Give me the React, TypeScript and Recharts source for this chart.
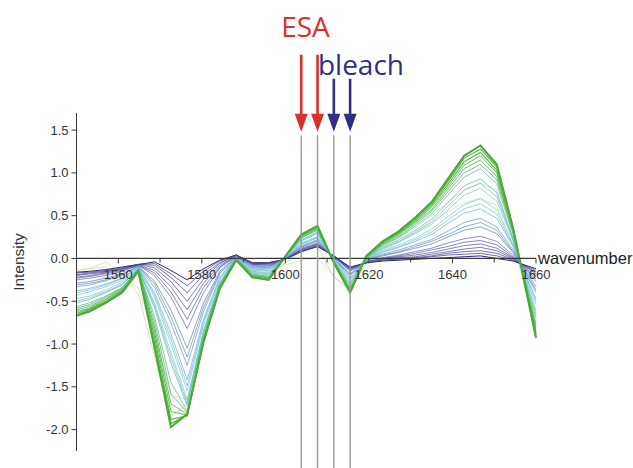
import { LineChart, Line, XAxis, YAxis, ReferenceLine, ReferenceDot } from "recharts";

// wavenumber grid (cm-1) shared by every trace
const WAVENUMBER = [
  1550, 1553.1, 1557, 1560.9, 1564.8, 1568.7, 1572.6, 1576.5, 1580.4, 1584.3,
  1588.2, 1592.1, 1596, 1599.9, 1603.8, 1607.7, 1611.6, 1615.5, 1619.4, 1623.3,
  1627.2, 1631.1, 1635, 1638.9, 1642.8, 1646.7, 1650.6, 1654.5, 1660,
];

// early, noisy traces (pale)
const EARLY_A = [-0.14, -0.12, -0.04, -0.18, -0.42, -1.15, -1.85, -1.7, -0.9, -0.3, -0.04, -0.15, -0.17, -0.06, 0.09, 0.14, -0.22, -0.36, -0.05, 0.14, 0.24, 0.36, 0.5, 0.66, 0.8, 0.88, 0.8, 0.22, -0.87];
const EARLY_B = [-0.13, -0.12, -0.1, -0.2, -0.35, -0.9, -1.6, -1.65, -0.85, -0.28, -0.03, -0.12, -0.14, -0.08, -0.02, 0.0, -0.2, -0.38, -0.06, 0.1, 0.2, 0.3, 0.42, 0.55, 0.65, 0.7, 0.62, 0.15, -0.7];

// difference spectra, smallest (indigo) to largest (green)
const D01 = [-0.16, -0.15, -0.13, -0.1, -0.07, -0.04, -0.14, -0.25, -0.12, -0.02, 0.04, -0.05, -0.05, -0.01, 0.08, 0.14, 0.03, -0.1, -0.05, -0.03, -0.02, -0.01, 0.0, 0.01, 0.02, 0.03, 0.0, -0.03, -0.12];
const D01B = [-0.17, -0.16, -0.14, -0.11, -0.07, -0.06, -0.18, -0.32, -0.15, -0.03, 0.04, -0.05, -0.05, -0.01, 0.08, 0.14, 0.03, -0.11, -0.05, -0.02, -0.01, 0.0, 0.02, 0.04, 0.05, 0.06, 0.03, -0.02, -0.14];
const D02 = [-0.19, -0.17, -0.15, -0.12, -0.07, -0.08, -0.22, -0.4, -0.19, -0.05, 0.04, -0.06, -0.06, -0.01, 0.09, 0.15, 0.03, -0.12, -0.05, -0.02, 0.0, 0.01, 0.03, 0.06, 0.08, 0.09, 0.06, -0.01, -0.16];
const D02B = [-0.2, -0.18, -0.16, -0.12, -0.07, -0.11, -0.27, -0.5, -0.24, -0.06, 0.04, -0.06, -0.06, -0.01, 0.1, 0.16, 0.02, -0.12, -0.05, -0.01, 0.01, 0.02, 0.05, 0.08, 0.11, 0.13, 0.09, 0.0, -0.18];
const D03 = [-0.22, -0.2, -0.17, -0.13, -0.08, -0.14, -0.33, -0.6, -0.29, -0.08, 0.03, -0.07, -0.07, -0.01, 0.1, 0.17, 0.02, -0.13, -0.04, 0.0, 0.02, 0.04, 0.07, 0.11, 0.15, 0.17, 0.12, 0.01, -0.21];
const D03B = [-0.23, -0.21, -0.18, -0.14, -0.08, -0.17, -0.39, -0.71, -0.34, -0.1, 0.03, -0.07, -0.08, -0.01, 0.11, 0.17, 0.02, -0.14, -0.04, 0.0, 0.03, 0.06, 0.1, 0.14, 0.19, 0.21, 0.16, 0.02, -0.24];
const D04 = [-0.25, -0.23, -0.2, -0.15, -0.08, -0.2, -0.45, -0.82, -0.4, -0.11, 0.03, -0.08, -0.09, 0.0, 0.12, 0.18, 0.02, -0.15, -0.04, 0.01, 0.04, 0.08, 0.12, 0.18, 0.23, 0.26, 0.2, 0.04, -0.27];
const D05 = [-0.29, -0.27, -0.23, -0.18, -0.09, -0.27, -0.6, -1.05, -0.52, -0.15, 0.03, -0.09, -0.1, 0.0, 0.13, 0.2, 0.01, -0.18, -0.03, 0.03, 0.07, 0.12, 0.17, 0.25, 0.33, 0.37, 0.29, 0.07, -0.33];
const D05B = [-0.31, -0.29, -0.25, -0.19, -0.09, -0.3, -0.68, -1.15, -0.57, -0.17, 0.02, -0.1, -0.11, 0.0, 0.14, 0.21, 0.0, -0.19, -0.02, 0.04, 0.08, 0.14, 0.2, 0.28, 0.37, 0.42, 0.33, 0.08, -0.37];
const D06 = [-0.33, -0.31, -0.26, -0.2, -0.09, -0.34, -0.75, -1.25, -0.62, -0.18, 0.02, -0.11, -0.12, 0.0, 0.15, 0.22, 0.0, -0.2, -0.02, 0.05, 0.1, 0.16, 0.22, 0.32, 0.42, 0.47, 0.37, 0.1, -0.4];
const D07 = [-0.38, -0.35, -0.3, -0.23, -0.1, -0.4, -0.88, -1.42, -0.71, -0.22, 0.02, -0.12, -0.14, 0.0, 0.17, 0.24, 0.0, -0.23, -0.02, 0.07, 0.13, 0.2, 0.28, 0.41, 0.53, 0.58, 0.47, 0.14, -0.47];
const D07B = [-0.4, -0.37, -0.31, -0.24, -0.1, -0.43, -0.94, -1.49, -0.74, -0.23, 0.01, -0.13, -0.14, 0.0, 0.17, 0.25, 0.0, -0.24, -0.01, 0.08, 0.14, 0.22, 0.31, 0.45, 0.58, 0.64, 0.52, 0.15, -0.5];
const D08 = [-0.43, -0.39, -0.33, -0.26, -0.11, -0.46, -1.0, -1.55, -0.78, -0.25, 0.01, -0.14, -0.15, 0.01, 0.18, 0.26, -0.01, -0.26, -0.01, 0.09, 0.16, 0.24, 0.34, 0.49, 0.63, 0.7, 0.57, 0.17, -0.54];
const D09 = [-0.47, -0.44, -0.37, -0.28, -0.11, -0.52, -1.1, -1.65, -0.84, -0.28, 0.01, -0.15, -0.17, 0.01, 0.2, 0.29, -0.02, -0.28, 0.0, 0.11, 0.19, 0.29, 0.4, 0.57, 0.74, 0.82, 0.67, 0.21, -0.61];
const D09B = [-0.5, -0.46, -0.39, -0.3, -0.12, -0.55, -1.16, -1.69, -0.86, -0.29, 0.0, -0.16, -0.18, 0.01, 0.21, 0.3, -0.02, -0.3, 0.0, 0.12, 0.2, 0.31, 0.43, 0.61, 0.8, 0.88, 0.72, 0.22, -0.65];
const D10 = [-0.52, -0.48, -0.4, -0.31, -0.12, -0.58, -1.22, -1.72, -0.88, -0.3, 0.0, -0.17, -0.19, 0.01, 0.22, 0.31, -0.03, -0.31, 0.01, 0.13, 0.22, 0.33, 0.46, 0.65, 0.85, 0.93, 0.77, 0.24, -0.69];
const D11 = [-0.56, -0.52, -0.44, -0.34, -0.13, -0.68, -1.45, -1.78, -0.92, -0.32, 0.0, -0.18, -0.21, 0.01, 0.24, 0.33, -0.03, -0.34, 0.01, 0.15, 0.25, 0.38, 0.52, 0.74, 0.95, 1.05, 0.87, 0.28, -0.76];
const D11B = [-0.58, -0.54, -0.45, -0.35, -0.13, -0.74, -1.58, -1.8, -0.93, -0.32, 0.0, -0.19, -0.21, 0.01, 0.24, 0.34, -0.03, -0.35, 0.01, 0.16, 0.26, 0.4, 0.55, 0.78, 1.0, 1.1, 0.92, 0.3, -0.79];
const D12 = [-0.6, -0.56, -0.47, -0.36, -0.13, -0.8, -1.7, -1.82, -0.95, -0.33, -0.01, -0.2, -0.22, 0.02, 0.25, 0.35, -0.04, -0.36, 0.02, 0.17, 0.28, 0.42, 0.57, 0.81, 1.05, 1.15, 0.96, 0.31, -0.82];
const D12B = [-0.62, -0.58, -0.48, -0.37, -0.13, -0.86, -1.79, -1.83, -0.96, -0.33, -0.01, -0.2, -0.23, 0.02, 0.26, 0.36, -0.04, -0.37, 0.02, 0.18, 0.29, 0.43, 0.6, 0.84, 1.09, 1.2, 1.0, 0.32, -0.85];
const D13 = [-0.64, -0.59, -0.5, -0.38, -0.14, -0.92, -1.88, -1.84, -0.97, -0.34, -0.01, -0.21, -0.24, 0.02, 0.27, 0.37, -0.05, -0.38, 0.03, 0.19, 0.3, 0.45, 0.62, 0.87, 1.13, 1.24, 1.03, 0.34, -0.88];
const D13B = [-0.66, -0.6, -0.51, -0.39, -0.15, -0.99, -1.93, -1.83, -0.98, -0.35, -0.02, -0.22, -0.25, 0.02, 0.28, 0.38, -0.05, -0.39, 0.03, 0.2, 0.31, 0.47, 0.64, 0.9, 1.17, 1.28, 1.07, 0.35, -0.9];
const D14 = [-0.67, -0.62, -0.52, -0.4, -0.15, -1.05, -1.97, -1.82, -0.98, -0.35, -0.02, -0.22, -0.25, 0.02, 0.28, 0.38, -0.05, -0.4, 0.03, 0.2, 0.32, 0.48, 0.66, 0.93, 1.2, 1.32, 1.1, 0.36, -0.93];

const X_MAJOR = [1560, 1580, 1600, 1620, 1640, 1660];
const X_MINOR = [1570, 1590, 1610, 1630, 1650];
const Y_TICKS = [-2.25, -2, -1.75, -1.5, -1.25, -1, -0.75, -0.5, -0.25, 0, 0.25, 0.5, 0.75, 1, 1.25, 1.5];
const ESA_LINES = [1603.8, 1607.7];
const BLEACH_LINES = [1611.6, 1615.5];

const TRACES = [
  { key: "ea", values: EARLY_A, color: "#c6dea0", width: 0.8 },
  { key: "eb", values: EARLY_B, color: "#d3e4ac", width: 0.8 },
  { key: "d01", values: D01, color: "#2c2a7a", width: 1 },
  { key: "d01b", values: D01B, color: "#333284", width: 0.7 },
  { key: "d02", values: D02, color: "#3b3b8e", width: 0.7 },
  { key: "d02b", values: D02B, color: "#444598", width: 0.7 },
  { key: "d03", values: D03, color: "#4d4fa0", width: 0.7 },
  { key: "d03b", values: D03B, color: "#5458a6", width: 0.7 },
  { key: "d04", values: D04, color: "#5a64ac", width: 0.7 },
  { key: "d05", values: D05, color: "#5c7cb6", width: 0.7 },
  { key: "d05b", values: D05B, color: "#5d88bc", width: 0.7 },
  { key: "d06", values: D06, color: "#5e96c2", width: 0.7 },
  { key: "d07", values: D07, color: "#66b0cc", width: 0.7 },
  { key: "d07b", values: D07B, color: "#6cbcd2", width: 0.7 },
  { key: "d08", values: D08, color: "#74c8d8", width: 0.7 },
  { key: "d09", values: D09, color: "#6cc6cc", width: 0.7 },
  { key: "d09b", values: D09B, color: "#62c0bc", width: 0.7 },
  { key: "d10", values: D10, color: "#58baa8", width: 0.7 },
  { key: "d11", values: D11, color: "#50b488", width: 0.7 },
  { key: "d11b", values: D11B, color: "#52b474", width: 0.8 },
  { key: "d12", values: D12, color: "#58b660", width: 0.9 },
  { key: "d12b", values: D12B, color: "#5eb952", width: 1 },
  { key: "d13", values: D13, color: "#62bc48", width: 1.2 },
  { key: "d13b", values: D13B, color: "#56b240", width: 1.2 },
  { key: "d14", values: D14, color: "#4aa838", width: 2 },
];

const data = WAVENUMBER.map((x, i) => {
  const row: Record<string, number> = { x };
  TRACES.forEach((t) => {
    row[t.key] = t.values[i];
  });
  return row;
});

const sans = "'Liberation Sans', Arial, sans-serif";
const axisColor = "#3a3a3a";

const YTick = (props: any) => {
  const { x, y, payload } = props;
  const v = payload.value as number;
  const major = Math.abs(v * 2 - Math.round(v * 2)) < 1e-6;
  return (
    <g>
      <line x1={x - (major ? 5 : 3)} y1={y} x2={x} y2={y} stroke={axisColor} />
      {major && (
        <text x={x - 8} y={y} dy={4.5} textAnchor="end" fontSize={13} fontFamily={sans} fill="#333">
          {v.toFixed(1)}
        </text>
      )}
    </g>
  );
};

const arrow = (color: string) => (props: any) => {
  const { x1, y1, y2 } = props;
  const top = Math.min(y1, y2);
  const tip = Math.max(y1, y2);
  const head = 18;
  return (
    <g>
      <line x1={x1} y1={top} x2={x1} y2={tip - head + 1} stroke={color} strokeWidth={2.6} />
      <polygon points={`${x1 - 6.5},${tip - head} ${x1 + 6.5},${tip - head} ${x1},${tip}`} fill={color} />
    </g>
  );
};

const label = (text: string, color: string) => (props: any) => (
  <text x={props.cx} y={props.cy} fontSize={28} fontFamily="'Open Sans', sans-serif" fill={color}>
    {text}
  </text>
);

export default function App() {
  return (
    <div style={{ position: "absolute", left: 0, top: 0, background: "#fff" }}>
      <LineChart width={633} height={468} data={data} margin={{ top: 113, right: 97, bottom: 17, left: 0 }}>
        <XAxis type="number" dataKey="x" domain={[1550, 1660]} hide />
        <YAxis
          type="number"
          domain={[-2.25, 1.7]}
          ticks={Y_TICKS}
          width={76.5}
          stroke={axisColor}
          tickLine={false}
          tickSize={0}
          tickMargin={0}
          tick={<YTick />}
          label={() => {
            const cx = 19;
            const cy = 262;
            return (
              <text x={cx} y={cy} transform={`rotate(-90, ${cx}, ${cy})`} textAnchor="middle" dy={5} fontSize={15.5} fontFamily={sans} fill="#333">
                Intensity
              </text>
            );
          }}
        />

        {X_MAJOR.map((v) => (
          <ReferenceDot
            key={`xm${v}`}
            x={v}
            y={0}
            ifOverflow="visible"
            shape={(p: any) => (
              <g>
                <line x1={p.cx} y1={p.cy} x2={p.cx} y2={p.cy + 5} stroke={axisColor} />
                <text x={p.cx} y={p.cy + 21} textAnchor="middle" fontSize={13} fontFamily={sans} fill="#333">
                  {v}
                </text>
              </g>
            )}
          />
        ))}
        {X_MINOR.map((v) => (
          <ReferenceDot
            key={`xn${v}`}
            x={v}
            y={0}
            ifOverflow="visible"
            shape={(p: any) => <line x1={p.cx} y1={p.cy} x2={p.cx} y2={p.cy + 4} stroke={axisColor} />}
          />
        ))}

        {TRACES.map((t) => (
          <Line
            key={t.key}
            dataKey={t.key}
            type="linear"
            stroke={t.color}
            strokeWidth={t.width}
            dot={false}
            activeDot={false}
            isAnimationActive={false}
          />
        ))}

        <ReferenceLine y={0} stroke={axisColor} strokeWidth={1.2} />
        <ReferenceDot
          x={1660}
          y={0}
          ifOverflow="visible"
          shape={(p: any) => (
            <text x={p.cx + 2} y={p.cy + 6} fontSize={16.5} fontFamily={sans} fill="#222">
              wavenumber
            </text>
          )}
        />

        {[...ESA_LINES, ...BLEACH_LINES].map((v) => (
          <ReferenceLine
            key={`g${v}`}
            segment={[{ x: v, y: 1.44 }, { x: v, y: -2.5 }]}
            ifOverflow="visible"
            stroke="#9a9a9a"
            strokeWidth={1.4}
          />
        ))}
        {ESA_LINES.map((v) => (
          <ReferenceLine
            key={`ea${v}`}
            segment={[{ x: v, y: 2.38 }, { x: v, y: 1.48 }]}
            ifOverflow="visible"
            shape={arrow("#d9302c")}
          />
        ))}
        {BLEACH_LINES.map((v) => (
          <ReferenceLine
            key={`ba${v}`}
            segment={[{ x: v, y: 2.1 }, { x: v, y: 1.48 }]}
            ifOverflow="visible"
            shape={arrow("#2e2f82")}
          />
        ))}
        <ReferenceDot x={1599} y={2.59} ifOverflow="visible" shape={label("ESA", "#d9302c")} />
        <ReferenceDot x={1607.8} y={2.14} ifOverflow="visible" shape={label("bleach", "#2e2f82")} />
      </LineChart>
    </div>
  );
}
